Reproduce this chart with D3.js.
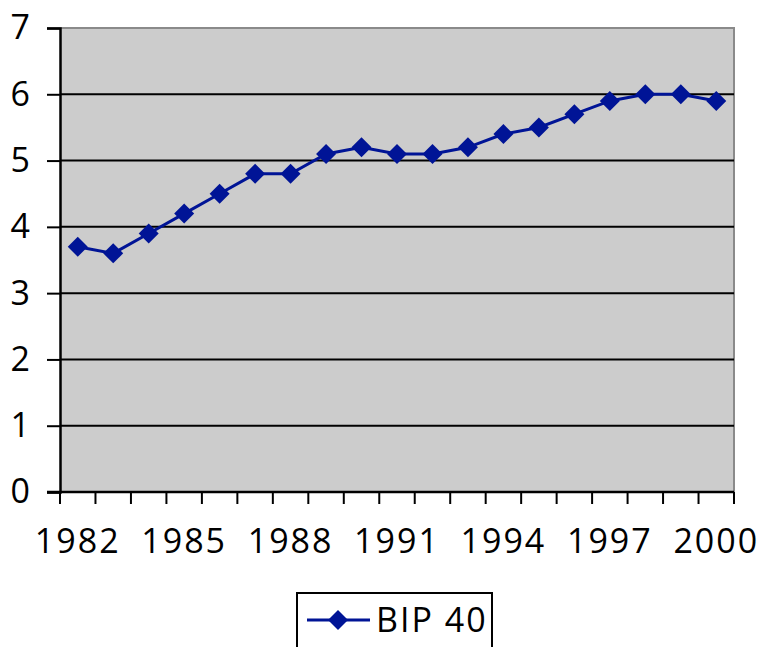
<!DOCTYPE html>
<html>
<head>
<meta charset="utf-8">
<script src="https://cdn.jsdelivr.net/npm/d3@7"></script>
<style>
  body { margin: 0; background: #fff; }
  svg { display: block; font-family: 'Open Sans', sans-serif; }
</style>
</head>
<body>
<div id="chart"></div>
<script>
const years = ['1982', '1983', '1984', '1985', '1986', '1987', '1988', '1989', '1990', '1991',
  '1992', '1993', '1994', '1995', '1996', '1997', '1998', '1999', '2000'];
const bip40 = [3.7, 3.6, 3.9, 4.2, 4.5, 4.8, 4.8, 5.1, 5.2, 5.1,
  5.1, 5.2, 5.4, 5.5, 5.7, 5.9, 6.0, 6.0, 5.9];
const yTicks = [0, 1, 2, 3, 4, 5, 6, 7];
const seriesName = 'BIP 40';

const width = 759, height = 647;
const plot = { left: 60, right: 734, top: 28, bottom: 492 };
const lineColor = '#001496';
const fontSize = 34;

const svg = d3.select('#chart').append('svg')
  .attr('width', width)
  .attr('height', height);

const x = d3.scaleBand().domain(years).range([plot.left, plot.right]).padding(0);
const y = d3.scaleLinear().domain([0, 7]).range([plot.bottom, plot.top]);

// plot background
svg.append('rect')
  .attr('x', plot.left).attr('y', plot.top)
  .attr('width', plot.right - plot.left)
  .attr('height', plot.bottom - plot.top)
  .attr('fill', '#cccccc');

// gray border top + right
svg.append('path')
  .attr('d', `M${plot.left},${plot.top}H${plot.right}V${plot.bottom}`)
  .attr('fill', 'none')
  .attr('stroke', '#8a8a8a')
  .attr('stroke-width', 2);

// gridlines
svg.append('g').selectAll('line')
  .data(yTicks.filter((d) => d > 0 && d < 7))
  .join('line')
  .attr('x1', plot.left).attr('x2', plot.right)
  .attr('y1', (d) => y(d)).attr('y2', (d) => y(d))
  .attr('stroke', '#000').attr('stroke-width', 2);

// y axis
const yAxis = svg.append('g')
  .attr('transform', `translate(${plot.left},0)`)
  .call(d3.axisLeft(y).tickValues(yTicks).tickSize(13).tickPadding(17).tickFormat(d3.format('d')));
yAxis.select('.domain').attr('stroke', '#000').attr('stroke-width', 2.5);
yAxis.selectAll('.tick line').attr('stroke', '#000').attr('stroke-width', 2);
yAxis.selectAll('.tick text')
  .attr('font-size', fontSize)
  .attr('fill', '#000')
  .attr('font-family', 'Open Sans');

// x axis
const xAxis = svg.append('g')
  .attr('transform', `translate(0,${plot.bottom})`);
xAxis.append('line')
  .attr('x1', plot.left - 13).attr('x2', plot.right)
  .attr('stroke', '#000').attr('stroke-width', 2.5);
const edges = years.map((d) => x(d)).concat([x(years[years.length - 1]) + x.bandwidth()]);
xAxis.selectAll('line.tick')
  .data(edges)
  .join('line')
  .attr('class', 'tick')
  .attr('x1', (d) => d).attr('x2', (d) => d)
  .attr('y1', 0).attr('y2', 12)
  .attr('stroke', '#000').attr('stroke-width', 2);
xAxis.selectAll('text')
  .data(years.filter((d, i) => i % 3 === 0))
  .join('text')
  .attr('x', (d) => x(d) + x.bandwidth() / 2)
  .attr('y', 61)
  .attr('text-anchor', 'middle')
  .attr('font-size', fontSize)
  .attr('letter-spacing', 2)
  .attr('fill', '#000')
  .text((d) => d);

// series line
const line = d3.line()
  .x((d, i) => x(years[i]) + x.bandwidth() / 2)
  .y((d) => y(d));

svg.append('path')
  .datum(bip40)
  .attr('d', line)
  .attr('fill', 'none')
  .attr('stroke', lineColor)
  .attr('stroke-width', 3);

const diamond = 'M0,-10L10,0L0,10L-10,0Z';
svg.append('g').selectAll('path')
  .data(bip40)
  .join('path')
  .attr('transform', (d, i) => `translate(${x(years[i]) + x.bandwidth() / 2},${y(d)})`)
  .attr('d', diamond)
  .attr('fill', lineColor);

// legend
const legend = svg.append('g');
legend.append('rect')
  .attr('x', 297).attr('y', 593)
  .attr('width', 195).attr('height', 70)
  .attr('fill', '#fff')
  .attr('stroke', '#000')
  .attr('stroke-width', 2);
legend.append('line')
  .attr('x1', 307).attr('x2', 370)
  .attr('y1', 620).attr('y2', 620)
  .attr('stroke', lineColor).attr('stroke-width', 3);
legend.append('path')
  .attr('transform', 'translate(338,620)')
  .attr('d', diamond)
  .attr('fill', lineColor);
legend.append('text')
  .attr('x', 376).attr('y', 632)
  .attr('font-size', fontSize)
  .attr('letter-spacing', 2)
  .attr('fill', '#000')
  .text(seriesName);
</script>
</body>
</html>
